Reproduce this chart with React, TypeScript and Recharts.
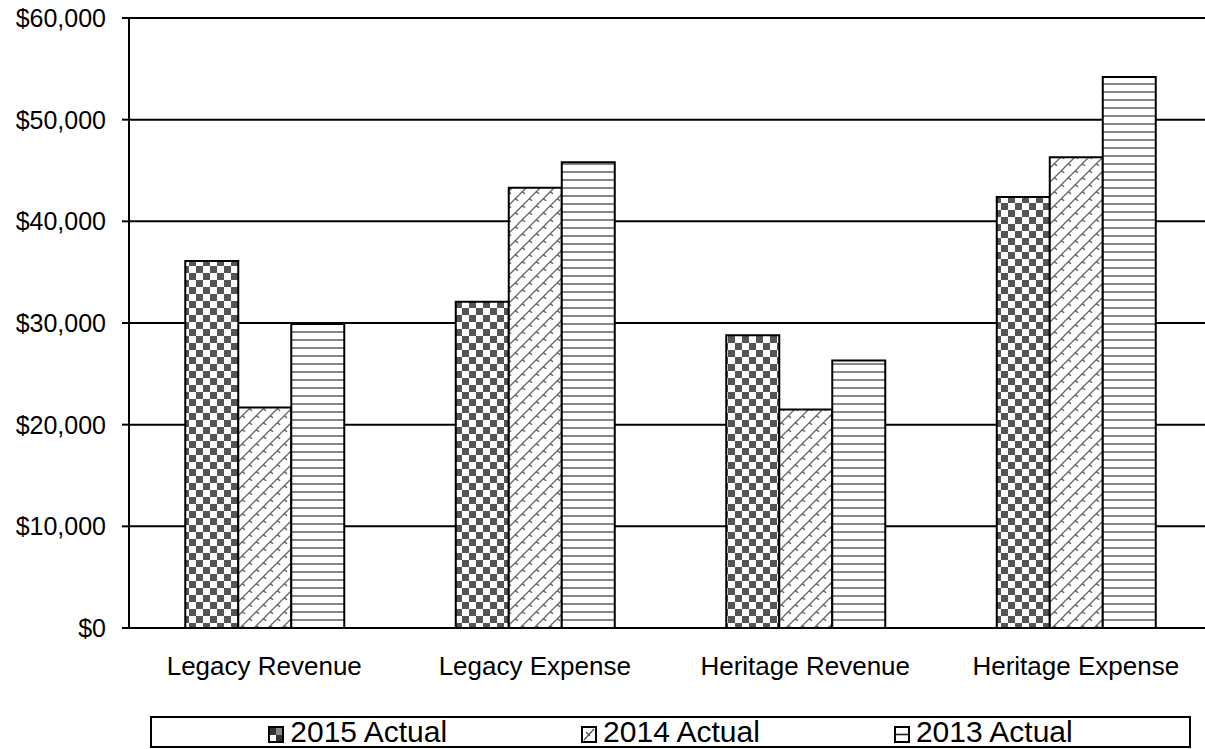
import React from "react";
import { Bar, BarChart, CartesianGrid, Legend, XAxis, YAxis } from "recharts";

const categories = ["Legacy Revenue", "Legacy Expense", "Heritage Revenue", "Heritage Expense"];
const actual2015 = [36100, 32100, 28800, 42400];
const actual2014 = [21700, 43300, 21500, 46300];
const actual2013 = [29900, 45800, 26300, 54200];
const yTicks = [0, 10000, 20000, 30000, 40000, 50000, 60000];

const seriesList = [
  { key: "a2015", name: "2015 Actual", fill: "url(#pat2015)", icon: "checker" },
  { key: "a2014", name: "2014 Actual", fill: "url(#pat2014)", icon: "diag" },
  { key: "a2013", name: "2013 Actual", fill: "url(#pat2013)", icon: "hline" },
];

const data = categories.map((label, i) => ({
  label,
  a2015: actual2015[i],
  a2014: actual2014[i],
  a2013: actual2013[i],
}));

const font = '"Liberation Sans", Arial, sans-serif';

function LegendIcon({ kind }: { kind: string }) {
  return (
    <svg
      width={16}
      height={17}
      viewBox="0 0 16 17"
      style={{ display: "block", width: 16, height: 17, flexShrink: 0, marginRight: 6, marginBottom: 3 }}
    >
      <rect x={1} y={1} width={14} height={15} fill="#fff" stroke="#000" strokeWidth={2} />
      {kind === "checker" && (
        <>
          <rect x={2} y={2} width={6} height={7} fill="#333" />
          <rect x={8} y={9} width={6} height={6} fill="#333" />
          <rect x={8} y={2} width={6} height={7} fill="#888" />
        </>
      )}
      {kind === "diag" && <path d="M3,14 L13,3 M5,6 L9,10" stroke="#555" strokeWidth={1.3} fill="none" />}
      {kind === "hline" && <path d="M1,8.5 L15,8.5" stroke="#222" strokeWidth={1.6} />}
    </svg>
  );
}

function LegendBox() {
  return (
    <div
      style={{
        boxSizing: "border-box",
        width: 1041,
        height: 32,
        border: "2px solid #000",
        display: "flex",
        justifyContent: "center",
        alignItems: "flex-end",
        gap: 134,
        fontFamily: font,
        fontSize: 30,
        lineHeight: "28px",
        color: "#000",
        background: "#fff",
      }}
    >
      {seriesList.map((s) => (
        <div key={s.key} style={{ display: "flex", alignItems: "flex-end" }}>
          <LegendIcon kind={s.icon} />
          <span>{s.name}</span>
        </div>
      ))}
    </div>
  );
}

export default function App() {
  return (
    <div
      style={{
        position: "absolute",
        left: 0,
        top: 0,
        width: 1205,
        height: 749,
        overflow: "hidden",
        background: "#fff",
      }}
    >
      <BarChart
        width={1212}
        height={749}
        data={data}
        margin={{ top: 18, right: 1, bottom: 61, left: 0 }}
        barCategoryGap="20.8%"
        barGap={0}
      >
        <defs>
          <pattern id="pat2015" width={14} height={14} patternUnits="userSpaceOnUse">
            <rect width={14} height={14} fill="#fff" />
            <rect x={0} y={0} width={7} height={7} fill="#555" />
            <rect x={7} y={7} width={7} height={7} fill="#555" />
          </pattern>
          <pattern id="pat2014" width={14} height={14} patternUnits="userSpaceOnUse">
            <rect width={14} height={14} fill="#fff" />
            <path
              d="M0,14 L14,0 M-1,1 L1,-1 M13,15 L15,13 M3,11 Q5,9 7,12 M10,4 Q12,2 14,5 M-4,4 Q-2,2 0,5"
              stroke="#666"
              strokeWidth={1.3}
              fill="none"
            />
          </pattern>
          <pattern id="pat2013" width={8} height={8} patternUnits="userSpaceOnUse">
            <rect width={8} height={8} fill="#fff" />
            <rect x={0} y={3} width={8} height={2} fill="#888" />
          </pattern>
        </defs>
        <CartesianGrid vertical={false} stroke="#000" strokeWidth={2} />
        <XAxis
          dataKey="label"
          height={60}
          tickLine={false}
          tickSize={0}
          tickMargin={29}
          axisLine={{ stroke: "#000", strokeWidth: 2 }}
          tick={{ fill: "#000", fontSize: 26, fontFamily: font }}
        />
        <YAxis
          width={129}
          domain={[0, 60000]}
          ticks={yTicks}
          interval={0}
          tickSize={7}
          tickMargin={16}
          tickLine={{ stroke: "#000", strokeWidth: 2 }}
          axisLine={{ stroke: "#000", strokeWidth: 2 }}
          tick={{ fill: "#000", fontSize: 25, fontFamily: font }}
          tickFormatter={(v: number) => `$${v.toLocaleString("en-US")}`}
        />
        <Legend
          layout="horizontal"
          align="center"
          verticalAlign="middle"
          content={() => <LegendBox />}
          wrapperStyle={{ left: 150, top: 716, width: 1041, height: 32 }}
        />
        {seriesList.map((s) => (
          <Bar
            key={s.key}
            dataKey={s.key}
            name={s.name}
            fill={s.fill}
            stroke="#000"
            strokeWidth={2}
            isAnimationActive={false}
          />
        ))}
      </BarChart>
    </div>
  );
}
